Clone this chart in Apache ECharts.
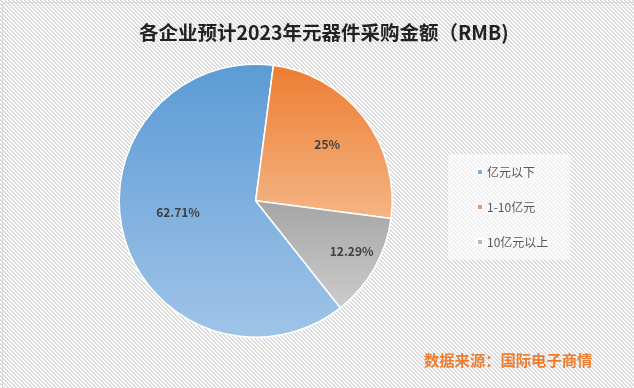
<!DOCTYPE html>
<html><head><meta charset="utf-8">
<script src="https://cdn.jsdelivr.net/npm/echarts@6/dist/echarts.min.js"></script>
<style>html,body{margin:0;padding:0;background:#fff}#c{width:634px;height:388px;box-sizing:border-box}</style>
</head><body><div id="c"></div>
<script>
const titleText = '各企业预计2023年元器件采购金额（RMB)';
const sourceText = '数据来源：国际电子商情';
const categories = ['亿元以下', '1-10亿元', '10亿元以上'];
const values = [62.71, 25, 12.29];

// styling (not data)
const gradients = [['#5b9bd5', '#a0c4e8'], ['#ed7d31', '#f5b585'], ['#a5a5a5', '#cccccc']];
const legendColors = ['#7fb0dd', '#f0955a', '#b8b8b8'];
const labelOffsets = [[-9, -7], [15, -13], [34, 16]];

// hatch pattern
const pc = document.createElement('canvas');
pc.width = 4; pc.height = 4;
const pctx = pc.getContext('2d');
pctx.fillStyle = '#ffffff'; pctx.fillRect(0, 0, 4, 4);
pctx.fillStyle = '#d9d9d9';
for (let y = 0; y < 4; y++) for (let x = 0; x < 4; x++) {
  const d = ((x - y) % 4 + 4) % 4;
  if (d === 0 || d === 1) pctx.fillRect(x, y, 1, 1);
}

const chart = echarts.init(document.getElementById('c'), null, {renderer: 'canvas'});
const cjk = '"Noto Sans CJK SC", "Microsoft YaHei", sans-serif';
chart.setOption({
  backgroundColor: {image: pc, repeat: 'repeat'},
  animation: false,
  title: {
    text: titleText, left: 139, top: 23, padding: 0,
    textStyle: {fontFamily: cjk, fontSize: 19.5, fontWeight: 'bold', color: '#222'}
  },
  legend: {
    orient: 'vertical', left: 448, top: 154,
    padding: [12, 22, 12, 28], itemGap: 23, itemWidth: 6, itemHeight: 6,
    backgroundColor: 'rgba(255,255,255,0.6)',
    icon: 'rect',
    data: categories.map((c, i) => ({name: c, itemStyle: {color: legendColors[i]}})),
    textStyle: {fontFamily: cjk, fontSize: 12, color: '#595959', padding: [0, 0, 0, -1]}
  },
  graphic: [{
    type: 'text', left: 424, top: 353,
    style: {text: sourceText, fontFamily: cjk, fontSize: 15.3, fontWeight: 'bold', fill: '#ed7d31'}
  }, {
    type: 'rect', left: 0, top: 0, shape: {width: 633, height: 387},
    style: {fill: 'none', stroke: '#d9d9d9', lineWidth: 1}, silent: true
  }],
  series: [{
    type: 'pie', center: [255.7, 200.7], radius: 136.5,
    startAngle: -51.7, clockwise: true, avoidLabelOverlap: false,
    itemStyle: {borderColor: '#fff', borderWidth: 1.5},
    label: {
      show: true, position: 'inside', formatter: p => p.value + '%',
      fontFamily: cjk, fontSize: 12, fontWeight: 'bold', color: '#404040'
    },
    labelLine: {show: false},
    emphasis: {disabled: true},
    data: categories.map((c, i) => ({
      name: c, value: values[i],
      label: {offset: labelOffsets[i]},
      itemStyle: {color: new echarts.graphic.LinearGradient(0, 0, 0, 1, [
        {offset: 0, color: gradients[i][0]}, {offset: 1, color: gradients[i][1]}])}
    }))
  }]
});
</script></body></html>
